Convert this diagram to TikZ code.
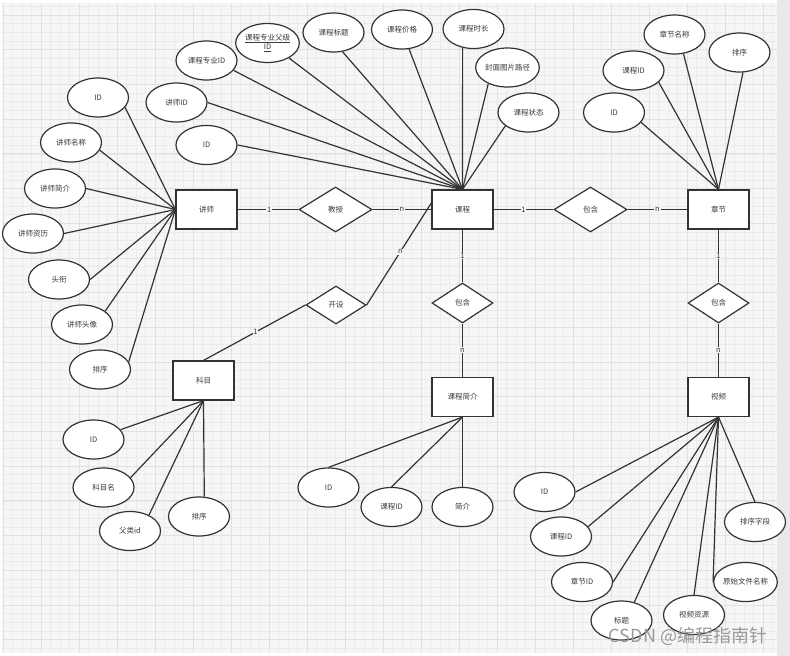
\documentclass[tikz,border=0pt]{standalone}
\usepackage{fontspec}
\setmainfont{Noto Sans CJK SC}
\usetikzlibrary{shapes.geometric}
\definecolor{bgc}{HTML}{F6F6F6}
\definecolor{gminor}{HTML}{EBEBEB}
\definecolor{gmajor}{HTML}{E1E1E1}
\definecolor{strip}{HTML}{E8E8E8}
\definecolor{ink}{HTML}{333333}
\definecolor{txt}{HTML}{3A3A3A}
\tikzset{
  gridminor/.style={draw=gminor, line width=0.6pt},
  gridmajor/.style={draw=gmajor, line width=0.8pt},
  ent/.style={draw=ink, fill=white, line width=1.2pt, rectangle, minimum width=61pt, minimum height=39pt, inner sep=0pt, font=\fontsize{7.5}{9}\selectfont, text=txt},
  rel/.style={draw=ink, fill=white, line width=1.2pt, diamond, inner sep=0pt, font=\fontsize{7.5}{9}\selectfont, text=txt},
  attr/.style={draw=ink, fill=white, line width=1.2pt, ellipse, minimum width=61pt, minimum height=39pt, inner sep=0pt, font=\fontsize{7.5}{9}\selectfont, text=txt, align=center},
  conn/.style={draw=ink, line width=1.2pt},
  lbl/.style={fill=bgc, inner sep=0.8pt, font=\fontsize{7.5}{8}\selectfont, text=txt}
}
\begin{document}
\begin{tikzpicture}[x=1pt,y=-1pt]
\useasboundingbox (0,0) rectangle (790,656);
\fill[white] (0,0) rectangle (790,656);
\fill[bgc] (2,3) rectangle (777,653);
\foreach \k in {0,...,81} \draw[gridminor] ({3+9.5*\k},3) -- ({3+9.5*\k},653);
\foreach \k in {-1,...,73} \draw[gridminor] (2,{15+8.675*\k}) -- (777,{15+8.675*\k});
\foreach \k in {0,...,20} \draw[gridmajor] ({3+38*\k},3) -- ({3+38*\k},653);
\foreach \k in {0,...,18} \draw[gridmajor] (2,{15+34.7*\k}) -- (777,{15+34.7*\k});
\fill[strip] (777,0) rectangle (790,656);

% entities
\node[ent] (teacher) at (206.5,209.5) {讲师};
\node[ent] (course) at (462.5,209.5) {课程};
\node[ent] (chapter) at (718.5,209.5) {章节};
\node[ent] (subject) at (203.5,380.5) {科目};
\node[ent] (intro) at (462.5,397) {课程简介};
\node[ent] (video) at (718.5,397) {视频};

% relations
\node[rel, minimum width=73pt, minimum height=45pt] (teach) at (335.5,209.5) {教授};
\node[rel, minimum width=73pt, minimum height=45pt] (cont1) at (590.5,209.5) {包含};
\node[rel, minimum width=61pt, minimum height=40pt] (cont2) at (462.5,303) {包含};
\node[rel, minimum width=61pt, minimum height=40pt] (cont3) at (718.5,303) {包含};
\node[rel, minimum width=60pt, minimum height=38pt] (open) at (336,305) {开设};

% teacher attributes
\node[attr] (t1) at (98,97.5) {ID};
\node[attr] (t2) at (71,142.5) {讲师名称};
\node[attr] (t3) at (55,188.5) {讲师简介};
\node[attr] (t4) at (33,233.5) {讲师资历};
\node[attr] (t5) at (59,279.5) {头衔};
\node[attr] (t6) at (82,324.5) {讲师头像};
\node[attr] (t7) at (100,369.5) {排序};

% course attributes
\node[attr] (c1) at (206.5,60.5) {课程专业ID};
\node[attr] (c2) at (267.5,43) {\underline{课程专业父级}\\\underline{ID}};
\node[attr] (c3) at (333.5,32.5) {课程标题};
\node[attr] (c4) at (402,29.5) {课程价格};
\node[attr] (c5) at (473.5,29) {课程时长};
\node[attr] (c6) at (507.5,67.5) {封面图片路径};
\node[attr] (c7) at (528.5,112.5) {课程状态};
\node[attr] (c8) at (176.5,102.5) {讲师ID};
\node[attr] (c9) at (206.5,145) {ID};

% chapter attributes
\node[attr] (h1) at (674.5,34.5) {章节名称};
\node[attr] (h2) at (739.5,52.5) {排序};
\node[attr] (h3) at (633.5,70.5) {课程ID};
\node[attr] (h4) at (614,112.5) {ID};

% subject attributes
\node[attr] (s1) at (93.5,439.5) {ID};
\node[attr] (s2) at (103.5,487.5) {科目名};
\node[attr] (s3) at (130,531) {父类id};
\node[attr] (s4) at (199,516.5) {排序};

% intro attributes
\node[attr] (i1) at (328.5,487.5) {ID};
\node[attr] (i2) at (391.5,507) {课程ID};
\node[attr] (i3) at (462.5,507) {简介};

% video attributes
\node[attr] (v1) at (544.5,492) {ID};
\node[attr] (v2) at (561,536.5) {课程ID};
\node[attr] (v3) at (582,582) {章节ID};
\node[attr] (v4) at (621.5,620.5) {标题};
\node[attr] (v5) at (694,615) {视频资源};
\node[attr] (v6) at (745.5,582) {原始文件名称};
\node[attr] (v7) at (755,522) {排序字段};

% attribute connectors
\draw[conn] (teacher.west) -- (t1.-20);
\draw[conn] (teacher.west) -- (t2.-15);
\draw[conn] (teacher.west) -- (t3.east);
\draw[conn] (teacher.west) -- (t4.east);
\draw[conn] (teacher.west) -- (t5.east);
\draw[conn] (teacher.west) -- (t6.30);
\draw[conn] (teacher.west) -- (t7.15);

\draw[conn] (course.north) -- (c1.-20);
\draw[conn] (course.north) -- (c2.-35);
\draw[conn] (course.north) -- (c3.-65);
\draw[conn] (course.north) -- (c4.-70);
\draw[conn] (course.north) -- (c5.-120);
\draw[conn] (course.north) -- (c6.-140);
\draw[conn] (course.north) -- (c7.-150);
\draw[conn] (course.north) -- (c8.east);
\draw[conn] (course.north) -- (c9.east);

\draw[conn] (chapter.north) -- (h1.-65);
\draw[conn] (chapter.north) -- (h2.-80);
\draw[conn] (chapter.north) -- (h3.-25);
\draw[conn] (chapter.north) -- (h4.-20);

\draw[conn] (subject.south) -- (s1.20);
\draw[conn] (subject.south) -- (s2.20);
\draw[conn] (subject.south) -- (s3.40);
\draw[conn] (subject.south) -- (s4.75);

\draw[conn] (intro.south) -- (i1.north);
\draw[conn] (intro.south) -- (i2.north);
\draw[conn] (intro.south) -- (i3.north);

\draw[conn] (video.south) -- (v1.east);
\draw[conn] (video.south) -- (v2.20);
\draw[conn] (video.south) -- (v3.east);
\draw[conn] (video.south) -- (v4.55);
\draw[conn] (video.south) -- (v5.north);
\draw[conn] (video.south) -- (v6.west);
\draw[conn] (video.south) -- (v7.north);

% relationship connectors
\draw[conn] (teacher.east) -- node[lbl, pos=0.52] {1} (teach.west);
\draw[conn] (teach.east) -- node[lbl, midway] {n} (course.west);
\draw[conn] (course.east) -- node[lbl, midway] {1} (cont1.west);
\draw[conn] (cont1.east) -- node[lbl, midway] {n} (chapter.west);
\draw[conn] (course.south) -- node[lbl, midway] {1} (cont2.north);
\draw[conn] (cont2.south) -- node[lbl, midway] {n} (intro.north);
\draw[conn] (chapter.south) -- node[lbl, midway] {1} (cont3.north);
\draw[conn] (cont3.south) -- node[lbl, midway] {n} (video.north);
\draw[conn] (course.168) -- node[lbl, pos=0.48] {n} (open.east);
\draw[conn] (open.west) -- node[lbl, pos=0.49] {1} (subject.north);

% watermark
\node[font=\fontsize{18}{20}\selectfont, text=black!40, anchor=center] (wm) at (688,636) {CSDN @编程指南针};
\end{tikzpicture}
\end{document}
